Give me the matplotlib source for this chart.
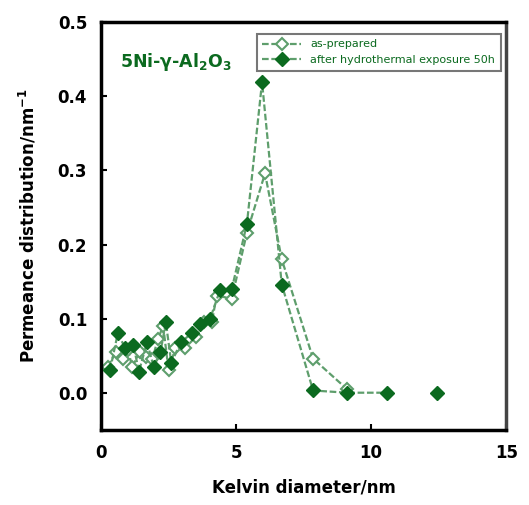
import matplotlib
matplotlib.use("Agg")
import matplotlib.pyplot as plt

# as-prepared (open diamonds)
x_prep = [0.25, 0.55, 0.8, 1.0, 1.15, 1.45, 1.65, 1.9, 2.1, 2.3, 2.5, 2.75, 3.1, 3.5,
          3.8, 4.1, 4.28, 4.84, 5.4, 6.07, 6.69, 7.85, 9.1]
y_prep = [0.035, 0.055, 0.045, 0.058, 0.035, 0.055, 0.048, 0.045, 0.072, 0.090, 0.030, 0.060,
          0.060, 0.075, 0.095, 0.095, 0.131, 0.127, 0.216, 0.296, 0.180, 0.046, 0.005]

# after hydrothermal exposure 50h (filled diamonds)
x_hyd = [0.33, 0.62, 0.9, 1.2, 1.4, 1.7, 1.95, 2.2, 2.4, 2.6, 2.95, 3.35, 3.67, 4.04,
         4.4, 4.84, 5.4, 5.96, 6.69, 7.85, 9.1, 10.58]
y_hyd = [0.030, 0.080, 0.060, 0.065, 0.028, 0.068, 0.035, 0.055, 0.095, 0.040, 0.068, 0.080,
         0.093, 0.100, 0.138, 0.140, 0.228, 0.419, 0.146, 0.003, 0.000, 0.000]
x_hyd_extra = [12.45]
y_hyd_extra = [0.0]

dark = "#0b6a1f"
light = "#5e9e6c"

fig = plt.figure(figsize=(5.29, 5.05), dpi=100)
ax = fig.add_axes([0.191, 0.149, 0.766, 0.807])

ax.plot(x_prep, y_prep, color=light, lw=1.6, ls=(0, (3, 1.2)), marker="D", ms=6,
        mfc="white", mec=light, mew=1.5, label="as-prepared", zorder=2)
ax.plot(x_hyd, y_hyd, color=light, lw=1.6, ls=(0, (3, 1.2)), marker="D", ms=7,
        mfc=dark, mec=dark, label="after hydrothermal exposure 50h", zorder=3)
ax.plot(x_hyd_extra, y_hyd_extra, ls="none", marker="D", ms=7, mfc=dark, mec=dark, zorder=3)

ax.set_xlim(0, 15)
ax.set_ylim(-0.05, 0.5)
ax.set_xticks([0, 5, 10, 15])
ax.set_yticks([0.0, 0.1, 0.2, 0.3, 0.4, 0.5])
ax.set_yticklabels(["0.0", "0.1", "0.2", "0.3", "0.4", "0.5"])
ax.tick_params(direction="in", length=4, width=1.5, labelsize=12, pad=10)
for lab in ax.get_xticklabels() + ax.get_yticklabels():
    lab.set_fontweight("bold")
for side in ["left", "bottom", "top"]:
    ax.spines[side].set_linewidth(2.5)
ax.spines["right"].set_linewidth(2.5)
ax.spines["right"].set_color("#444444")

ax.set_xlabel("Kelvin diameter/nm", fontsize=12, fontweight="bold", labelpad=12)
ax.set_ylabel("Permeance distribution/nm$^{\\mathbf{-1}}$", fontsize=12, fontweight="bold", labelpad=14)

ax.text(0.7, 0.44, r"5Ni-$\mathbf{\gamma}$-Al$_\mathbf{2}$O$_\mathbf{3}$", color=dark,
        fontsize=12.5, fontweight="bold")

leg = ax.legend(loc="upper right", bbox_to_anchor=(1.0, 0.985), fontsize=8, frameon=True,
                fancybox=False, edgecolor="#555555", borderpad=0.5, handlelength=3.5,
                labelcolor=dark)
leg.get_frame().set_linewidth(1.5)

fig.savefig("out.png", dpi=100)
